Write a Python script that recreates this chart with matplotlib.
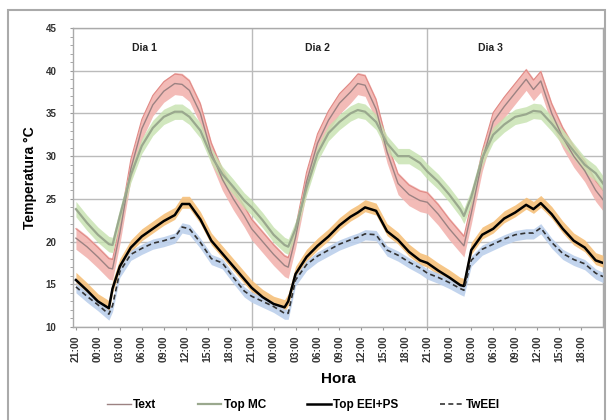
import numpy as np
import matplotlib
matplotlib.use("Agg")
import matplotlib.pyplot as plt
from matplotlib.patches import Rectangle

plt.rcParams['font.family'] = ['Liberation Sans', 'DejaVu Sans']

# hours since 21:00 of the first night
day_offsets = [0, 1.5, 3, 4.5, 5, 6, 7.5, 9, 10.5, 12, 13.5, 14.5, 15.5, 17, 18.5, 20, 21.5, 23]
hours = [d * 24 + o for d in range(3) for o in day_offsets] + [72]

# Text (exterior)
t_ext = [20.4, 19.4, 18.2, 16.9, 16.8, 21.0, 28.5, 33.2, 36.0, 37.6, 38.5, 38.4, 37.7, 35.0, 30.4, 27.3, 25.0, 23.0,
         21.5, 20.0, 18.5, 17.2, 17.0, 20.5, 27.0, 31.5, 34.2, 36.2, 37.5, 38.5, 38.3, 35.5, 30.5, 26.8, 25.5, 24.8,
         24.6, 23.2, 21.5, 20.0, 19.5, 23.3, 29.5, 34.0, 35.8, 37.4, 39.0, 37.8, 38.8, 35.0, 32.2, 30.0, 28.3, 26.0,
         24.9]
# Top MC
top_mc = [23.8, 22.2, 20.8, 19.7, 19.6, 23.0, 27.8, 31.2, 33.3, 34.6, 35.2, 35.2, 34.6, 33.0, 30.0, 27.9, 26.4, 24.8,
          24.0, 22.5, 20.8, 19.6, 19.4, 21.5, 26.3, 30.3, 32.7, 34.0, 35.0, 35.4, 35.2, 34.0, 31.5, 30.0, 30.0, 29.2,
          28.2, 27.0, 25.5, 23.8, 23.0, 25.2, 29.8, 32.5, 33.7, 34.6, 34.9, 35.3, 35.2, 33.8, 32.2, 30.6, 29.0, 28.0,
          26.8]
# Top EEI+PS
top_eei = [15.5, 14.3, 13.0, 12.2, 14.5, 17.1, 19.3, 20.6, 21.5, 22.4, 23.1, 24.4, 24.4, 22.6, 20.1, 18.6, 17.1, 15.6,
           14.6, 13.5, 12.7, 12.3, 13.0, 16.2, 18.2, 19.5, 20.6, 21.9, 22.9, 23.4, 24.0, 23.6, 21.2, 20.2, 18.8, 17.8,
           17.5, 16.6, 15.8, 14.9, 14.8, 19.0, 20.8, 21.5, 22.7, 23.4, 24.3, 23.8, 24.5, 23.2, 21.5, 20.1, 19.3, 17.8,
           17.5]
# TwEEI
tw_eei = [14.7, 13.6, 12.6, 11.5, 12.5, 16.5, 18.5, 19.2, 19.8, 20.1, 20.5, 21.7, 21.5, 19.9, 18.0, 17.5, 15.8, 14.2,
          13.6, 13.0, 12.4, 11.6, 11.6, 15.5, 17.3, 18.3, 19.0, 19.7, 20.2, 20.5, 20.9, 20.8, 19.0, 18.4, 17.6, 16.9,
          16.3, 15.8, 15.2, 14.5, 14.3, 17.8, 19.1, 19.7, 20.3, 20.8, 21.0, 21.0, 21.6, 19.9, 18.6, 17.9, 17.4, 16.3,
          15.9]

tick_hours = list(range(0, 72, 3))
tick_labels = ['21:00', '00:00', '03:00', '06:00', '09:00', '12:00', '15:00', '18:00'] * 3
day_names = ['Dia 1', 'Dia 2', 'Dia 3']
day_text_x = [9.4, 33, 56.6]

fig = plt.figure(figsize=(6.07, 4.2), dpi=100)
ax = fig.add_axes([73 / 607, 1 - 327 / 420, 530 / 607, 299 / 420])

h = np.array(hours)
# spread bands (measurement dispersion)
ax.fill_between(h, np.array(t_ext) - 1.3, np.array(t_ext) + 1.3, color='#f2b4b0', lw=0, alpha=0.9, zorder=2)
ax.plot(h, np.array(t_ext) + 1.1, color='#e08a86', lw=0.8, zorder=2)
ax.fill_between(h, np.array(top_mc) - 0.9, np.array(top_mc) + 0.9, color='#c6e2ae', lw=0, alpha=0.8, zorder=2)
ax.fill_between(h, np.array(top_eei) - 0.5, np.array(top_eei) + 0.9, color='#f6c07a', lw=0, alpha=0.9, zorder=3)
ax.fill_between(h, np.array(tw_eei) - 0.7, np.array(tw_eei) + 0.5, color='#bcd0ec', lw=0, alpha=0.9, zorder=3)

ax.plot(h, t_ext, color='#9c8282', lw=1.0, label='Text', zorder=4)
ax.plot(h, top_mc, color='#9aa88e', lw=1.6, label='Top MC', zorder=4)
ax.plot(h, top_eei, color='black', lw=1.8, label='Top EEI+PS', zorder=5)
ax.plot(h, tw_eei, color='#333333', lw=1.2, ls=(0, (3, 2)), label='TwEEI', zorder=5)

ax.set_xlim(-0.4, 72)
ax.set_ylim(10, 45)
ax.set_yticks(range(10, 46, 5))
ax.set_yticks(range(10, 46, 1), minor=True)
ax.set_yticklabels([str(v) for v in range(10, 46, 5)], fontsize=7, fontweight='bold', color='#333333')
ax.set_xticks(tick_hours)
ax.set_xticklabels(tick_labels, rotation=90, fontsize=7.5, fontweight='bold', color='#333333')
ax.tick_params(axis='x', length=2, color='#999999', pad=4)
ax.tick_params(axis='y', which='both', length=2, color='#999999', pad=10)
ax.grid(axis='y', color='#bbbbbb', lw=1.0, zorder=0)
for d in [24, 48]:
    ax.axvline(d, color='#bbbbbb', lw=1.0, zorder=0)
for sp in ax.spines.values():
    sp.set_color('#aaaaaa')
    sp.set_linewidth(1.0)

for name, xd in zip(day_names, day_text_x):
    ax.text(xd, 42.7, name, fontsize=7.5, fontweight='bold', ha='center', va='center', color='#222222')

ax.set_ylabel('Temperatura °C', fontsize=10, fontweight='bold', labelpad=6)
ax.set_xlabel('Hora', fontsize=11, fontweight='bold', labelpad=7)

fig.legend(loc='center', bbox_to_anchor=(0.5, 1 - 405 / 420), ncol=4, frameon=False,
           prop={'weight': 'bold', 'size': 8.5}, handlelength=2.0, handletextpad=0.2, columnspacing=3.5)

fig.patches.append(Rectangle((8 / 607, -0.02), 597 / 607, 1 - 10 / 420 + 0.02, transform=fig.transFigure,
                             fill=False, edgecolor='#aaaaaa', lw=1.5))

fig.savefig('out.png', dpi=100)
